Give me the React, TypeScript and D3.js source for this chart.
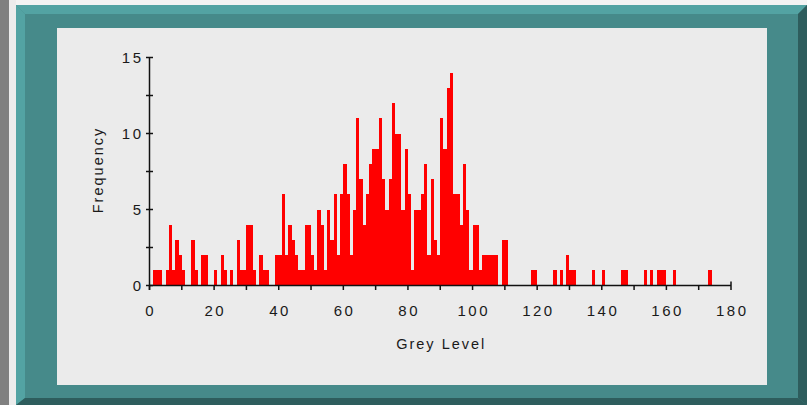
import React from "react";
import * as d3 from "d3";

// Non-zero histogram bins (grey level -> frequency)
const greyLevels = [1, 2, 3, 5, 6, 7, 8, 9, 10, 13, 14, 16, 17, 20, 22, 23, 25, 27, 28, 29, 30, 31, 32, 34, 35, 36, 39, 40, 41, 42, 43, 44, 45, 46, 47, 48, 49, 50, 51, 52, 53, 54, 55, 56, 57, 58, 59, 60, 61, 62, 63, 64, 65, 66, 67, 68, 69, 70, 71, 72, 73, 74, 75, 76, 77, 78, 79, 80, 81, 82, 83, 84, 85, 86, 87, 88, 89, 90, 91, 92, 93, 94, 95, 96, 97, 98, 99, 100, 101, 102, 103, 104, 105, 106, 107, 109, 110, 118, 119, 125, 127, 129, 130, 131, 137, 140, 146, 147, 153, 155, 157, 158, 159, 162, 173];
const frequencies = [1, 1, 1, 1, 4, 1, 3, 2, 1, 3, 1, 2, 2, 1, 2, 1, 1, 3, 1, 1, 4, 4, 1, 2, 1, 1, 2, 2, 6, 2, 4, 3, 2, 1, 1, 4, 4, 2, 1, 5, 4, 1, 5, 3, 6, 2, 6, 8, 6, 2, 5, 11, 7, 4, 6, 8, 9, 9, 11, 7, 5, 7, 12, 10, 10, 5, 9, 6, 1, 5, 5, 6, 8, 2, 7, 3, 2, 11, 9, 13, 14, 6, 6, 4, 8, 5, 1, 4, 4, 1, 2, 2, 2, 2, 2, 3, 3, 1, 1, 1, 1, 2, 1, 1, 1, 1, 1, 1, 1, 1, 1, 1, 1, 1, 1];

const xTickValues = [0, 10, 20, 30, 40, 50, 60, 70, 80, 90, 100, 110, 120, 130, 140, 150, 160, 170, 180];
const xTickLabels = [0, 20, 40, 60, 80, 100, 120, 140, 160, 180];
const yTickValues = [0, 2.5, 5, 7.5, 10, 12.5, 15];
const yTickLabels = [0, 5, 10, 15];

const xTitle = "Grey Level";
const yTitle = "Frequency";

const W = 807;
const H = 405;
const FONT = "'Liberation Sans', Arial, sans-serif";

export default function App() {
  const x = d3.scaleLinear().domain([0, 180]).range([149.5, 731]);
  const y = d3.scaleLinear().domain([0, 15]).range([285.5, 57.5]);
  const data = greyLevels.map((g, i) => ({ g, f: frequencies[i] }));

  const teal = "#468a8a";
  const tealLight = "#53a3a3";
  const tealDark = "#2e5d5d";

  return (
    <div style={{ position: "absolute", left: 0, top: 0, width: W, height: H }}>
      <svg width={W} height={H} style={{ display: "block" }}>
        {/* page background */}
        <rect x={0} y={0} width={W} height={H} fill="#f3f3f3" />
        <rect x={0} y={0} width={9} height={H} fill="#808080" />
        <rect x={9} y={0} width={7} height={H} fill="#ececec" />
        {/* teal frame with bevel */}
        <rect x={16} y={5} width={W - 16} height={H - 5} fill={teal} />
        <polygon points={`16,5 807,5 798,14 25,14`} fill={tealLight} />
        <polygon points={`16,5 25,14 25,398 16,405`} fill={tealLight} />
        <polygon points={`807,5 807,405 798,398 798,14`} fill={tealDark} />
        <polygon points={`16,405 807,405 798,398 25,398`} fill={tealDark} />
        {/* inner panel */}
        <rect x={57} y={28} width={710} height={357} fill="#ebebeb" />

        {/* bars */}
        <g shapeRendering="crispEdges">
          {data.map((d) => (
            <rect
              key={d.g}
              x={x(d.g)}
              y={y(d.f)}
              width={x(d.g + 1) - x(d.g)}
              height={y(0) - y(d.f)}
              fill="#ff0000"
            />
          ))}
        </g>

        {/* axes */}
        <g stroke="#111" strokeWidth={1.5}>
          <line x1={x(0)} y1={y(15) - 0.5} x2={x(0)} y2={290} />
          <line x1={x(0)} y1={y(0)} x2={x(180)} y2={y(0)} />
          {yTickValues.map((v) => (
            <line key={"yt" + v} x1={x(0) - 3.5} x2={x(0) + 3.5} y1={y(v)} y2={y(v)} />
          ))}
          {xTickValues.map((v) => (
            <line key={"xt" + v} x1={x(v)} x2={x(v)} y1={v === 180 ? y(0) - 4 : y(0)} y2={290} />
          ))}
        </g>

        {/* tick labels */}
        <g fontFamily={FONT} fontSize={15} fill="#1a1a1a" letterSpacing={2.5}>
          {yTickLabels.map((v) => (
            <text key={"yl" + v} x={141 + 2.5} y={y(v) + 5.5} textAnchor="end">
              {v}
            </text>
          ))}
          {xTickLabels.map((v) => (
            <text key={"xl" + v} x={x(v) + 1.25} y={315.5} textAnchor="middle">
              {v}
            </text>
          ))}
        </g>

        {/* axis titles */}
        <g fontFamily={FONT} fontSize={14.5} fill="#1a1a1a" letterSpacing={2}>
          <text x={(x(0) + x(180)) / 2 + 1} y={348.5} textAnchor="middle">
            {xTitle}
          </text>
          <text
            transform={`translate(102.5, ${169 + 1}) rotate(-90)`}
            textAnchor="middle"
          >
            {yTitle}
          </text>
        </g>
      </svg>
    </div>
  );
}
